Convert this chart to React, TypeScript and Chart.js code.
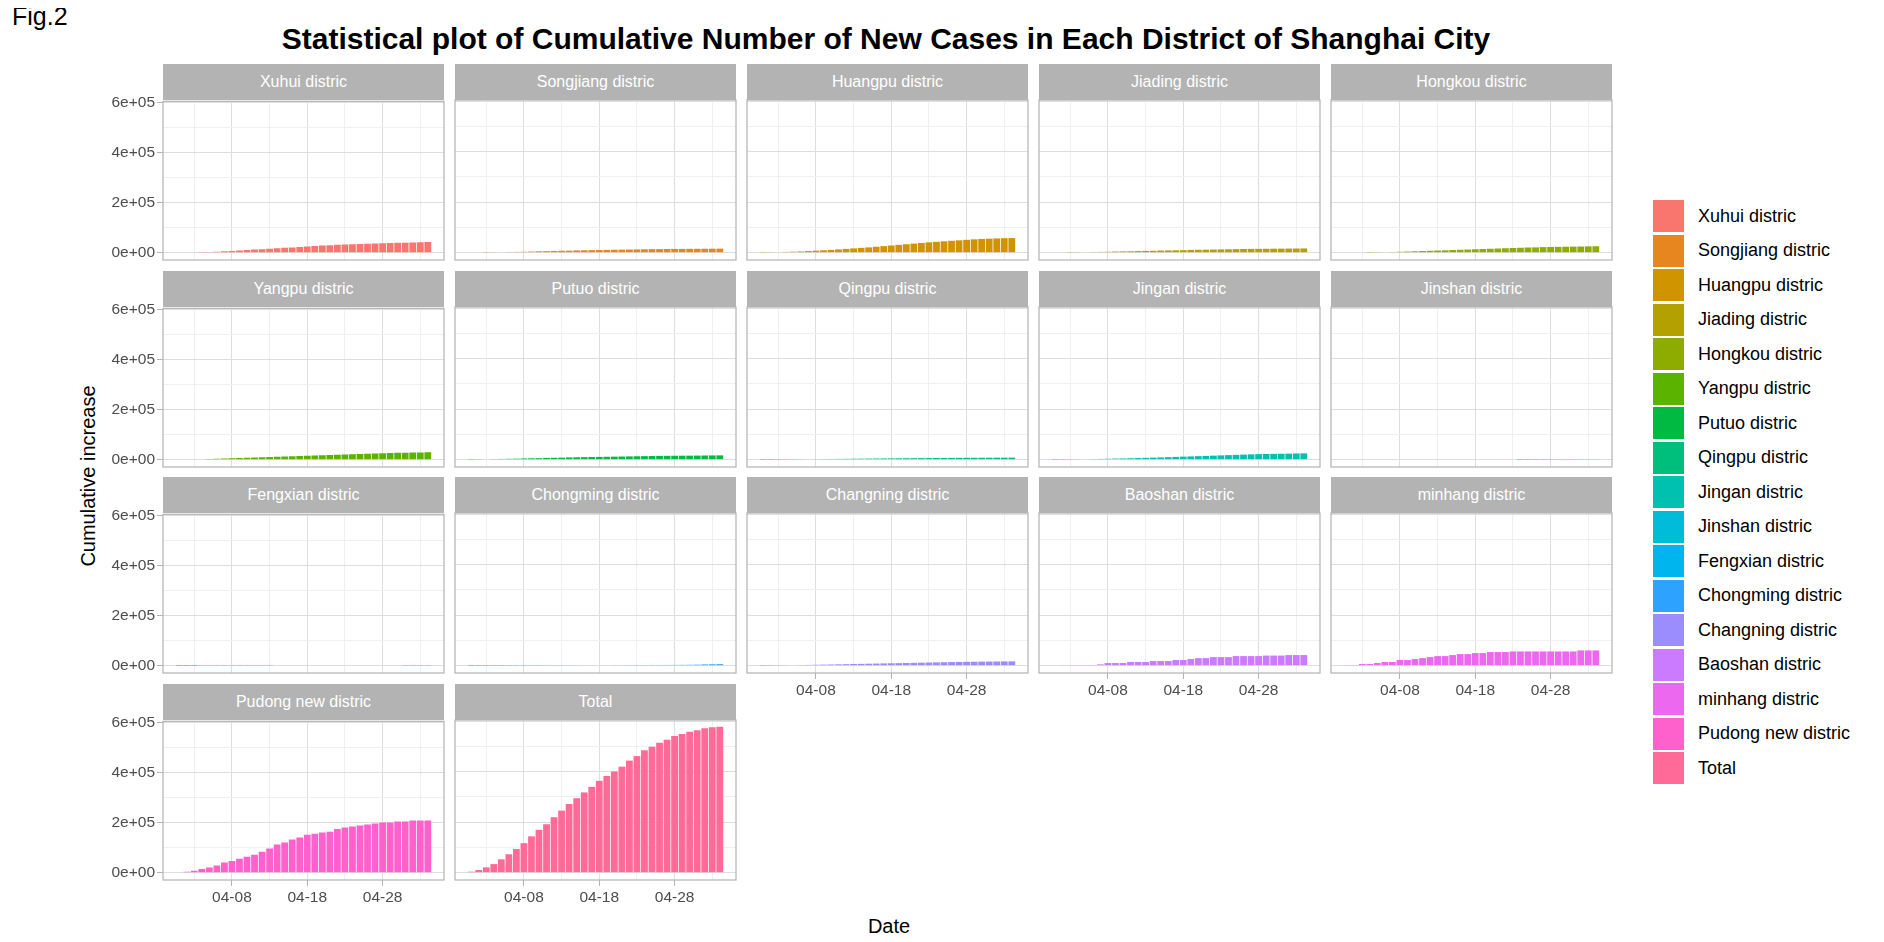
import { useEffect, useRef } from "react";
import Chart from "chart.js/auto";

// day index 0 = 04-01
const dayLabels: Record<number, string> = { 7: "04-08", 17: "04-18", 27: "04-28" };
const xTicks = [2, 7, 12, 17, 22, 27, 32];
const yTicks = [0, 100000, 200000, 300000, 400000, 500000, 600000];
const yLabels: Record<number, string> = { 0: "0e+00", 200000: "2e+05", 400000: "4e+05", 600000: "6e+05" };

const districts = [
  "Xuhui distric", "Songjiang distric", "Huangpu distric", "Jiading distric", "Hongkou distric",
  "Yangpu distric", "Putuo distric", "Qingpu distric", "Jingan distric", "Jinshan distric",
  "Fengxian distric", "Chongming distric", "Changning distric", "Baoshan distric", "minhang distric",
  "Pudong new distric", "Total",
];

const colors = [
  "#F8766D", "#E7851E", "#D09400", "#B2A100", "#8EAB00", "#5BB300", "#00BA42", "#00BF7D",
  "#00C0AF", "#00BCD8", "#00B5EE", "#2DA2FF", "#9C8DFF", "#CB7BFF", "#EC69EF", "#FF61CC", "#FF6A98",
];

const N = null;
const xuhui = [N, N, 2000, 2500, 3000, 4000, 5500, 7000, 9000, 11000, 12500, 14000, 16000, 18000, 19500, 21000, 23000, 25000, 27000, 28500, 30000, 31500, 33000, 34000, 35000, 36000, 37000, 38000, 39000, 39500, 40000, 41000, 42000, 42500];
const songjiang = [N, N, 1000, 1500, 2000, 2500, 3000, 3500, 4500, 5500, 6000, 7000, 7500, 8000, 9000, 9500, 10000, 10500, 11000, 11500, 12000, 12500, 13000, 13500, 14000, 14200, 14500, 14800, 15000, 15200, 15400, 15600, 15800, 16000];
const huangpu = [1000, 1500, 2000, 3000, 4000, 5000, 6500, 8000, 9500, 11000, 13000, 15000, 17000, 19000, 21000, 23500, 26000, 28500, 31000, 33500, 36000, 38500, 41000, 43000, 45000, 47000, 49000, 51000, 53000, 54500, 55500, 56500, 57500, 58000];
const jiading = [N, N, 1000, 1500, 2000, 2500, 3000, 3500, 4500, 5000, 5500, 6500, 7000, 7500, 8500, 9000, 9500, 10000, 11000, 11500, 12000, 12500, 13000, 13500, 14000, 14500, 15000, 15200, 15500, 15800, 16000, 16300, 16500, 16800];
const hongkou = [N, N, N, 1000, 1500, 2000, 2500, 3500, 4500, 5500, 6500, 7500, 8500, 9500, 10500, 11500, 12500, 13500, 14500, 15500, 16500, 17500, 18500, 19500, 20500, 21000, 22000, 22500, 23000, 23500, 24000, 24500, 25000, 25500];
const yangpu = [N, N, 1500, 2000, 3000, 4000, 5000, 6000, 7000, 8000, 9000, 10000, 11000, 12000, 13000, 14000, 15000, 16000, 17000, 18000, 19000, 20000, 21000, 22000, 23000, 24000, 25000, 26000, 27000, 27500, 28000, 28500, 29000, 30000];
const putuo = [1000, 1500, 2000, 2500, 3000, 3500, 4000, 5000, 5500, 6000, 7000, 7500, 8000, 9000, 9500, 10000, 10500, 11000, 11500, 12000, 12500, 13000, 13500, 14000, 14500, 15000, 15200, 15500, 15800, 16000, 16300, 16500, 16800, 17000];
const qingpu = [500, 700, 900, 1100, 1300, 1600, 1900, 2200, 2500, 2800, 3100, 3400, 3700, 4000, 4300, 4600, 4900, 5200, 5500, 5800, 6000, 6200, 6400, 6600, 6800, 7000, 7200, 7400, 7500, 7600, 7700, 7800, 7900, 8000];
const jingan = [700, 1000, 1300, 1700, 2100, 2600, 3100, 3700, 4300, 5000, 5700, 6500, 7300, 8100, 9000, 10000, 11000, 12000, 13000, 14000, 15000, 16000, 17000, 18000, 19000, 20000, 21000, 22000, 22500, 23000, 23500, 24000, 24500, 25000];
const jinshan = [N, N, N, N, N, N, N, N, N, N, N, N, N, N, N, N, N, N, N, N, N, N, N, 500, 600, 700, 800, 900, 1000, 1100, 1200, 1300, 1400, 1500];
const fengxian = [200, 300, 400, 500, 600, 700, 800, 900, 1000, 1100, 1200, 1300, 1400, 1500, 1600, 1700, 1800, 1900, 2000, 2050, 2100, 2150, 2200, 2250, 2300, 2350, 2400, 2420, 2440, 2460, 2480, 2500, 2500, 2500];
const chongming = [300, 400, 500, 600, 700, 800, 900, 1000, 1100, 1200, 1300, 1400, 1500, 1600, 1700, 1800, 1900, 2000, 2100, 2200, 2300, 2400, 2500, 2600, 2700, 2800, 2900, 3000, 3200, 3500, 4000, 5000, 5500, 6000];
const changning = [500, 800, 1100, 1500, 2000, 2500, 3000, 3600, 4200, 4800, 5400, 6000, 6600, 7200, 7800, 8400, 9000, 9600, 10200, 10800, 11400, 12000, 12600, 13200, 13800, 14300, 14800, 15300, 15700, 16000, 16300, 16600, 16800, 17000];
const baoshan = [N, 2600, 2600, 2600, 2600, 2600, 5300, 10500, 10500, 10500, 14500, 14500, 14500, 18400, 18400, 18400, 22400, 22400, 26300, 30000, 30000, 34000, 34000, 34000, 38000, 38000, 38000, 38000, 40000, 40000, 40000, 42000, 42000, 42000];
const minhang = [2600, 2600, 6500, 6500, 10500, 14500, 14500, 22400, 22400, 26300, 30000, 34000, 38000, 38000, 42000, 46000, 46000, 50000, 50000, 54000, 54000, 54000, 56500, 56500, 56500, 56500, 56500, 56500, 56500, 56500, 56500, 60500, 60500, 60500];
const pudong = [N, 4000, 8000, 14700, 21300, 29300, 41300, 46700, 56000, 64000, 72000, 84000, 97000, 113000, 121000, 133000, 141000, 152000, 156000, 161000, 164000, 175000, 181000, 185000, 189000, 193000, 197000, 201000, 201000, 205000, 205000, 209000, 209000, 209000];
const total = [4000, 10600, 21000, 34000, 53000, 73000, 94000, 117000, 144000, 170000, 192000, 220000, 246000, 272000, 295000, 318000, 340000, 364000, 383000, 401000, 420000, 444000, 462000, 485000, 499000, 515000, 527000, 542000, 550000, 558000, 564000, 572000, 576000, 578000];

const series = [xuhui, songjiang, huangpu, jiading, hongkou, yangpu, putuo, qingpu, jingan, jinshan, fengxian, chongming, changning, baoshan, minhang, pudong, total];

const COL_LEFT = 163, COL_PITCH = 292, PLOT_W = 281;
const ROW_TOP = 64, ROW_PITCH = 206.7, STRIP_H = 36, PLOT_H = 160;
const Y_AXIS_W = 80, X_AXIS_H = 40, PAD_TOP = 10;
const FONT = "'Liberation Sans', Arial";

const borderPlugin = {
  id: "panelBorder",
  afterDraw(chart: any) {
    const { ctx, chartArea: a } = chart;
    ctx.save();
    ctx.strokeStyle = "#B3B3B3";
    ctx.lineWidth = 1.2;
    ctx.strokeRect(a.left, a.top, a.right - a.left, a.bottom - a.top);
    ctx.restore();
  },
};

function Panel({ idx }: { idx: number }) {
  const canvasRef = useRef<HTMLCanvasElement | null>(null);
  const col = idx % 5;
  const row = Math.floor(idx / 5);
  const showY = col === 0;
  const showX = idx >= 12;

  useEffect(() => {
    if (!canvasRef.current) return;
    const pts = series[idx]
      .map((v, i) => (v === null ? null : { x: i, y: v }))
      .filter((p) => p !== null);
    const chart = new Chart(canvasRef.current, {
      type: "bar",
      data: {
        datasets: [{
          data: pts as any,
          backgroundColor: colors[idx],
          borderWidth: 0,
          barPercentage: 0.9,
          categoryPercentage: 1,
        }],
      },
      plugins: [borderPlugin],
      options: {
        animation: false,
        responsive: false,
        events: [],
        layout: { padding: { top: PAD_TOP, left: 0, right: 1, bottom: 0 } },
        plugins: { legend: { display: false }, tooltip: { enabled: false } },
        scales: {
          x: {
            type: "linear",
            offset: false,
            min: -2.15,
            max: 35.15,
            afterBuildTicks: (s: any) => { s.ticks = xTicks.map((v) => ({ value: v })); },
            afterFit: (s: any) => { s.height = X_AXIS_H; },
            border: { display: false },
            grid: {
              offset: false,
              color: (c: any) => (c.tick && dayLabels[c.tick.value] ? "#DEDEDE" : "#EFEFEF"),
              tickColor: (c: any) => (showX && c.tick && dayLabels[c.tick.value] ? "#B3B3B3" : "rgba(0,0,0,0)"),
              tickLength: 6,
            },
            ticks: {
              display: showX,
              autoSkip: false,
              maxRotation: 0,
              color: "#4D4D4D",
              font: { family: FONT, size: 15.5 },
              padding: 2,
              callback: (v: any) => dayLabels[v] ?? "",
            },
          },
          y: {
            type: "linear",
            min: -29000,
            max: 605000,
            afterBuildTicks: (s: any) => { s.ticks = yTicks.map((v) => ({ value: v })); },
            afterFit: (s: any) => { s.width = Y_AXIS_W; },
            border: { display: false },
            grid: {
              color: (c: any) => (c.tick && yLabels[c.tick.value] ? "#DEDEDE" : "#EFEFEF"),
              tickColor: (c: any) => (showY && c.tick && yLabels[c.tick.value] ? "#B3B3B3" : "rgba(0,0,0,0)"),
              tickLength: 6,
            },
            ticks: {
              display: showY,
              color: "#4D4D4D",
              font: { family: FONT, size: 15.5 },
              padding: 2,
              callback: (v: any) => yLabels[v] ?? "",
            },
          },
        },
      },
    });
    return () => chart.destroy();
  }, [idx]);

  const left = COL_LEFT + col * COL_PITCH;
  const top = ROW_TOP + row * ROW_PITCH;
  return (
    <>
      <div style={{
        position: "absolute", left, top, width: PLOT_W, height: STRIP_H, background: "#B3B3B3",
        color: "#FFFFFF", font: `16px ${FONT}`, display: "flex",
        alignItems: "center", justifyContent: "center",
      }}>{districts[idx]}</div>
      <canvas ref={canvasRef} width={PLOT_W + Y_AXIS_W + 1} height={PLOT_H + X_AXIS_H + PAD_TOP}
        style={{ position: "absolute", left: left - Y_AXIS_W, top: top + STRIP_H - PAD_TOP }} />
    </>
  );
}

export default function App() {
  return (
    <div style={{ position: "relative", width: 1884, height: 942, background: "#fff", margin: -8, fontFamily: FONT }}>
      <div style={{ position: "absolute", left: 12, top: 2, fontSize: 25 }}>Fig.2</div>
      <div style={{ position: "absolute", left: 0, width: 1772, top: 22, textAlign: "center", fontSize: 30, fontWeight: "bold" }}>
        Statistical plot of Cumulative Number of New Cases in Each District of Shanghai City
      </div>
      <div style={{ position: "absolute", left: 88, top: 476, transform: "translate(-50%,-50%) rotate(-90deg)", fontSize: 20, whiteSpace: "nowrap" }}>
        Cumulative increase
      </div>
      <div style={{ position: "absolute", left: 889, top: 926, transform: "translate(-50%,-50%)", fontSize: 20 }}>Date</div>
      {districts.map((_, i) => <Panel key={i} idx={i} />)}
      {districts.map((d, i) => (
        <div key={d} style={{ position: "absolute", left: 1653, top: 199 + i * 34.5, height: 34.5, display: "flex", alignItems: "center" }}>
          <div style={{ width: 31, height: 32, background: colors[i], marginRight: 14 }} />
          <span style={{ fontSize: 18 }}>{d}</span>
        </div>
      ))}
    </div>
  );
}
